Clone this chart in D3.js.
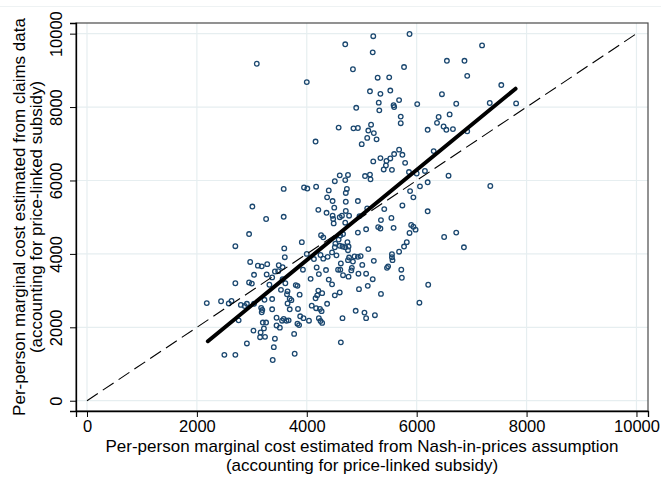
<!DOCTYPE html>
<html>
<head>
<meta charset="utf-8">
<script src="https://cdn.jsdelivr.net/npm/d3@7/dist/d3.min.js"></script>
<style>
  body { margin: 0; background: #fff; }
  svg { display: block; }
  text { font-family: "Liberation Sans", Arial, sans-serif; fill: #000; }
</style>
</head>
<body>
<svg id="chart" width="661" height="488"></svg>
<script>
// Per-plan marginal cost: Nash-in-prices estimate (x) vs claims-data estimate (y)
const nashCost = [
  3090, 4000, 4700, 4840, 4900, 5210, 5870, 5200, 5770, 5290,
  5500, 5150, 5340, 5520, 5310, 5580, 5590, 5680, 6010, 5320,
  6550, 6870, 7190, 6920, 7540, 6460, 6720, 7330, 7810, 4580,
  4850, 4930, 4160, 4600, 4750, 4510, 4700, 3580, 3950, 4010,
  4170, 4400, 4730, 4710, 5710, 5710, 5170, 5120, 5220, 5100,
  5270, 5000, 6400, 6600, 6370, 6490, 6540, 6660, 6200, 6920,
  5680, 5740, 5590, 5520, 5340, 5450, 5440, 5400, 5550, 5210,
  5790, 6310, 5860, 6000, 6150, 6580, 6200, 6060, 5880, 5940,
  7340, 5060, 5150, 5160, 3010, 3260, 3580, 2950, 2700, 3590,
  3910, 3600, 2970, 3110, 3180, 3280, 3040, 3270, 3490, 3560,
  3480, 3420, 3370, 4000, 3930, 4070, 4130, 4210, 4360, 4370,
  4470, 4500, 4710, 4930, 4710, 4770, 4600, 4470, 4640, 4480,
  4490, 4700, 4960, 4930, 4260, 4300, 4520, 4580, 4610, 4660,
  4510, 4600, 4650, 4740, 4700, 4760, 4750, 4460, 4540, 4380,
  4300, 4250, 4770, 4870, 4930, 4750, 4840, 4180, 4350, 4220,
  4400, 4570, 4660, 4820, 4810, 4940, 4760, 4620, 4610, 3560,
  5740, 5410, 5100, 6200, 5350, 5540, 5080, 5300, 5340, 5580,
  5900, 5940, 5980, 5870, 5820, 5770, 5680, 5550, 5550, 5560,
  5120, 5220, 4980, 5010, 5480, 5460, 5720, 5730, 5080, 5200,
  6500, 6720, 6860, 2700, 2950, 3000, 3320, 3530, 3610, 3650,
  3800, 3830, 3870, 4210, 4280, 4190, 4460, 4510, 4600, 4950,
  2180, 2440, 2580, 2630, 2800, 2870, 2910, 3040, 3170, 3190,
  3180, 3230, 3370, 3370, 3650, 3690, 3720, 3690, 3840, 4090,
  4160, 4170, 4240, 4270, 4370, 4890, 3880, 3940, 4040, 4220,
  4250, 4280, 4650, 2760, 3200, 3260, 3220, 3450, 3450, 3510,
  3580, 3550, 3670, 3630, 3830, 3860, 3030, 3160, 3150, 3240,
  3420, 3770, 2910, 4620, 3400, 2500, 2700, 3380, 3780, 3640,
  5110, 5350, 5050, 5080, 5240, 6210, 6050
];

const claimsCost = [
  9180, 8680, 9710, 9030, 7980, 9930, 9990, 9490, 9090, 8800,
  8810, 8430, 8360, 8450, 8120, 8050, 8000, 8190, 8080, 7910,
  9260, 9260, 9680, 8850, 8600, 8350, 8090, 8110, 8100, 7440,
  7420, 7430, 7060, 6140, 6150, 5980, 6010, 5770, 5810, 5780,
  5830, 5730, 5770, 5660, 7740, 7560, 7520, 7360, 7290, 7160,
  7120, 6990, 7730, 7800, 7570, 7470, 7380, 7400, 7380, 7340,
  6840, 6700, 6720, 6600, 6610, 6530, 6410, 6300, 6290, 6520,
  6480, 6800, 6230, 6190, 6260, 6130, 5950, 5840, 5710, 5540,
  5850, 6120, 6160, 6030, 5290, 4950, 5010, 4540, 4210, 4150,
  4320, 3910, 3780, 3680, 3660, 3720, 3430, 3440, 3690, 3640,
  3530, 3520, 3360, 4000, 3570, 3320, 3860, 5200, 5120, 5540,
  5440, 5260, 5420, 5440, 5170, 5040, 5000, 5040, 5040, 4950,
  4830, 4850, 5030, 4580, 4510, 4450, 4280, 4390, 4500, 4540,
  4180, 4220, 4200, 4320, 4180, 4200, 4100, 4040, 3960, 3920,
  3870, 3970, 3900, 3930, 3920, 3830, 3790, 3630, 3560, 3450,
  3300, 3570, 3420, 3620, 3550, 3460, 3380, 3740, 3570, 3310,
  5320, 5220, 5240, 5160, 4920, 4980, 4670, 4730, 4690, 4710,
  4790, 4740, 4660, 4570, 4320, 4200, 4060, 3990, 3910, 3830,
  4130, 3810, 3940, 3700, 3660, 3620, 3570, 3350, 3460, 3310,
  4460, 4580, 4180, 3200, 3220, 3190, 3160, 3020, 3200, 2980,
  3150, 3130, 2890, 3000, 2930, 2870, 3170, 2870, 2950, 3040,
  2660, 2710, 2650, 2720, 2610, 2580, 2640, 2640, 2530, 2470,
  2410, 2750, 2770, 2490, 2650, 2780, 2740, 2490, 2500, 2590,
  2790, 2520, 2500, 2440, 2640, 2450, 2300, 2250, 2180, 2250,
  2170, 2120, 2250, 2190, 2130, 2130, 1970, 2260, 2050, 1990,
  2230, 2180, 2190, 2180, 2100, 2060, 1910, 1860, 1730, 1740,
  1690, 1820, 1560, 1590, 1460, 1250, 1250, 1110, 1280, 2900,
  3130, 2910, 2400, 2250, 2330, 3160, 2670
];

// Linear fit across the observed range, and the 45-degree reference line
const fitNash = [2200, 7800];
const fitClaims = [1620, 8500];
const refLine = [0, 10000];

const xTicks = [0, 2000, 4000, 6000, 8000, 10000];
const yTicks = [0, 2000, 4000, 6000, 8000, 10000];

const xTitle = ["Per-person marginal cost estimated from Nash-in-prices assumption",
                "(accounting for price-linked subsidy)"];
const yTitle = ["Per-person marginal cost estimated from claims data",
                "(accounting for price-linked subsidy)"];

const svg = d3.select("#chart");
const W = 661, H = 488;
const plot = { left: 76, right: 648, top: 23, bottom: 411 };

const x = d3.scaleLinear().domain([-200, 10210]).range([plot.left, plot.right]);
const y = d3.scaleLinear().domain([-280, 10290]).range([plot.bottom, plot.top]);

svg.append("rect").attr("width", W).attr("height", H).attr("fill", "#fff");

// faint outer graph border
svg.append("line")
  .attr("x1", 0).attr("x2", W).attr("y1", 6.5).attr("y2", 6.5)
  .attr("stroke", "#eef2f3").attr("stroke-width", 1);

// gridlines
const grid = svg.append("g").attr("stroke", "#e6eef0").attr("stroke-width", 1.2);
grid.selectAll(".gx").data(xTicks).join("line")
  .attr("x1", d => x(d)).attr("x2", d => x(d))
  .attr("y1", plot.top).attr("y2", plot.bottom);
grid.selectAll(".gy").data(yTicks).join("line")
  .attr("x1", plot.left).attr("x2", plot.right)
  .attr("y1", d => y(d)).attr("y2", d => y(d));

// plot region frame
svg.append("rect")
  .attr("x", plot.left).attr("y", plot.top)
  .attr("width", plot.right - plot.left).attr("height", plot.bottom - plot.top)
  .attr("fill", "none").attr("stroke", "#4a4a4a").attr("stroke-width", 1.2);

// axes
const tickFont = 16.5;
const xAxis = d3.axisBottom(x).tickValues(xTicks).tickSize(6).tickPadding(3)
  .tickFormat(d3.format("d"));
const gx = svg.append("g").attr("transform", `translate(0,${plot.bottom})`).call(xAxis);
gx.select(".domain").attr("stroke", "#000").attr("stroke-width", 1.3);
gx.selectAll(".tick line").attr("stroke", "#000");
gx.selectAll(".tick text").attr("font-size", tickFont)
  .attr("font-family", '"Liberation Sans", Arial, sans-serif').attr("fill", "#000");

const yAxis = d3.axisLeft(y).tickValues(yTicks).tickSize(6).tickPadding(5)
  .tickFormat(d3.format("d"));
const gy = svg.append("g").attr("transform", `translate(${plot.left},0)`).call(yAxis);
gy.select(".domain").attr("stroke", "#000").attr("stroke-width", 1.3);
gy.selectAll(".tick line").attr("stroke", "#000");
gy.selectAll(".tick text")
  .attr("font-size", tickFont)
  .attr("font-family", '"Liberation Sans", Arial, sans-serif').attr("fill", "#000")
  .attr("text-anchor", "middle")
  .attr("x", null).attr("dy", null)
  .attr("transform", "translate(-14,0) rotate(-90)")
  .attr("y", 0);

// axis titles
const xc = (plot.left + plot.right) / 2;
svg.append("g").selectAll("text").data(xTitle).join("text")
  .attr("x", xc).attr("y", (d, i) => 452 + i * 19)
  .attr("text-anchor", "middle").attr("font-size", 17)
  .text(d => d);

const yc = (plot.top + plot.bottom) / 2;
svg.append("g").selectAll("text").data(yTitle).join("text")
  .attr("transform", (d, i) => `translate(${25 + i * 16.7},${yc}) rotate(-90)`)
  .attr("text-anchor", "middle").attr("font-size", 17)
  .text(d => d);

// scatter points
const pts = nashCost.map((v, i) => [v, claimsCost[i]]);
svg.append("g").selectAll("circle").data(pts).join("circle")
  .attr("cx", d => x(d[0])).attr("cy", d => y(d[1]))
  .attr("r", 2.3)
  .attr("fill", "none")
  .attr("stroke", "#1a476f").attr("stroke-width", 1.3);

// 45-degree reference line
const line = d3.line().x(d => x(d[0])).y(d => y(d[1]));
svg.append("path")
  .datum(refLine.map(v => [v, v]))
  .attr("d", line)
  .attr("fill", "none").attr("stroke", "#000").attr("stroke-width", 1.1)
  .attr("stroke-dasharray", "13,6");

// linear fit
svg.append("path")
  .datum(fitNash.map((v, i) => [v, fitClaims[i]]))
  .attr("d", line)
  .attr("fill", "none").attr("stroke", "#000").attr("stroke-width", 4)
  .attr("stroke-linecap", "round");
</script>
</body>
</html>
